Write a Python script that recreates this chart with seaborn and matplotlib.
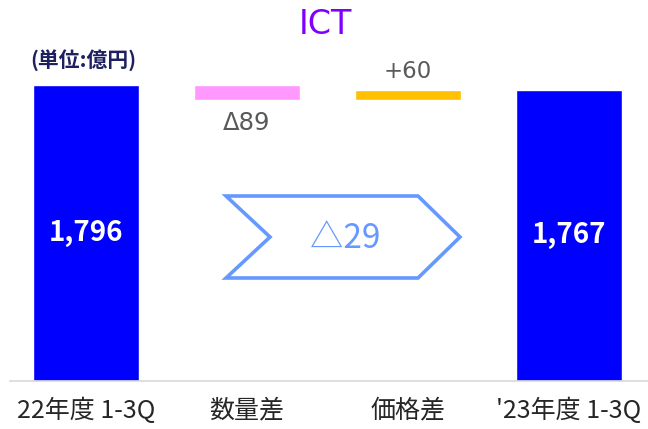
import matplotlib
matplotlib.use("Agg")
import matplotlib.pyplot as plt
from matplotlib.patches import Polygon
import seaborn as sns
import pandas as pd
import numpy as np

# %% data
categories = ["22年度 1-3Q", "数量差", "価格差", "'23年度 1-3Q"]
start_total = 1796
deltas = [-89, 60]
end_total = 1767
delta_labels = ["Δ89", "+60"]
total_labels = ["1,796", "1,767"]
change_label = "△29"

bar_colors = ["#0000FF", "#FF99FF", "#FFC000", "#0000FF"]

# waterfall: bottoms and heights
steps = np.cumsum([start_total] + deltas)
bottoms = [0] + [min(steps[i], steps[i + 1]) for i in range(len(deltas))] + [0]
heights = [start_total] + [abs(d) for d in deltas] + [end_total]
df = pd.DataFrame({"cat": categories, "bottom": bottoms, "height": heights})

# %% plot
sns.set_style("white")
plt.rcParams["font.family"] = ["Noto Sans CJK JP", "DejaVu Sans"]

W, H = 648, 429
fig = plt.figure(figsize=(W / 100, H / 100), dpi=100)
ax = fig.add_axes([10 / W, 48 / H, 638 / W, 381 / H])

# totals via seaborn, floating deltas via bottom offset
sns.barplot(data=df, x="cat", y="height", hue="cat", palette=bar_colors,
            width=0.66, legend=False, ax=ax, saturation=1)
for patch, b in zip(ax.patches, df["bottom"]):
    patch.set_y(b)

ax.set_xlim(-0.47, 3.49)
ax.set_ylim(0, 2312)
sns.despine(ax=ax, left=True)
ax.spines["bottom"].set_color("#D9D9D9")
ax.spines["bottom"].set_linewidth(1.2)
ax.set_yticks([])
ax.set_xlabel("")
ax.set_ylabel("")
ax.tick_params(axis="x", length=0, pad=12, labelsize=18, labelcolor="#262626")

# labels inside total bars
for xi, val, lab in [(0, start_total, total_labels[0]), (3, end_total, total_labels[1])]:
    ax.text(xi, val / 2, lab, ha="center", va="center", color="white",
            fontsize=20, fontweight="bold")

# delta labels
ax.annotate(delta_labels[0], (1, df["bottom"][1]), xytext=(0, -17),
            textcoords="offset points", ha="center", va="center",
            fontsize=17.5, color="#595959", family=["DejaVu Sans"])
ax.annotate(delta_labels[1], (2, df["bottom"][2] + df["height"][2]), xytext=(0, 13),
            textcoords="offset points", ha="center", va="center",
            fontsize=16.5, color="#595959", family=["DejaVu Sans"])

# chevron arrow with the overall change
pts = [(226, 196), (418, 196), (460, 237), (418, 278), (226, 278), (270, 237)]
pts = [(x / W, 1 - y / H) for x, y in pts]
fig.patches.append(Polygon(pts, closed=True, fill=False, edgecolor="#6699FF",
                           linewidth=2.6, transform=fig.transFigure))
fig.text(345 / W, 1 - 238 / H, change_label, ha="center", va="center",
         fontsize=24, color="#6699FF")

fig.text(325 / W, 1 - 24 / H, "ICT", ha="center", va="center",
         fontsize=24, color="#7F00FF", family=["DejaVu Sans"])
fig.text(30 / W, 1 - 60 / H, "(単位:億円)", ha="left", va="center",
         fontsize=15, fontweight="bold", color="#1F2060")

fig.savefig("out.png", dpi=100)
